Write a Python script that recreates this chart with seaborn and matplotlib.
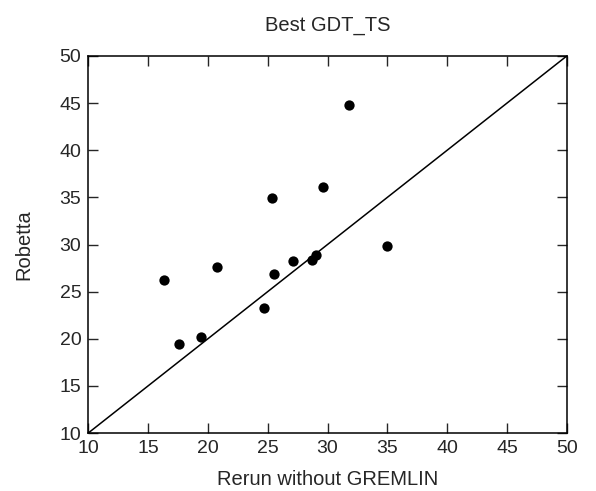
import numpy as np
import pandas as pd
import seaborn as sns
import matplotlib.pyplot as plt

# values
rerun = [16.3, 17.6, 19.4, 20.8, 24.7, 25.4, 25.5, 27.1, 28.7, 29.0, 29.6, 31.8, 35.0]
robetta = [26.2, 19.5, 20.2, 27.6, 23.3, 34.9, 26.9, 28.2, 28.4, 28.9, 36.1, 44.8, 29.8]
ticks = [10, 15, 20, 25, 30, 35, 40, 45, 50]

df = pd.DataFrame({'rerun': rerun, 'robetta': robetta})

sns.set_style('ticks')
plt.rcParams['font.family'] = ['Liberation Sans', 'DejaVu Sans']

fig = plt.figure(figsize=(5.96, 4.91), dpi=100)
ax = fig.add_axes([0.148, 0.118, 0.803, 0.768])

# diagonal y = x
ax.plot([10, 50], [10, 50], color='black', linewidth=1.1)
sns.scatterplot(data=df, x='rerun', y='robetta', ax=ax, color='black', s=55, edgecolor='black', linewidth=0, zorder=3)

ax.set_xlim(10, 50)
ax.set_ylim(10, 50)
ax.set_xticks(ticks)
ax.set_yticks(ticks)
ax.tick_params(direction='in', top=True, right=True, length=7, width=1, labelsize=14, pad=5)
for s in ax.spines.values():
    s.set_linewidth(1.1)
    s.set_color('black')

ax.set_xlabel('Rerun without GREMLIN', fontsize=14.5, labelpad=9)
ax.set_ylabel('Robetta', fontsize=14.5, labelpad=19)
ax.set_title('Best GDT_TS', fontsize=14.5, pad=18)

fig.savefig('out.png', dpi=100)
